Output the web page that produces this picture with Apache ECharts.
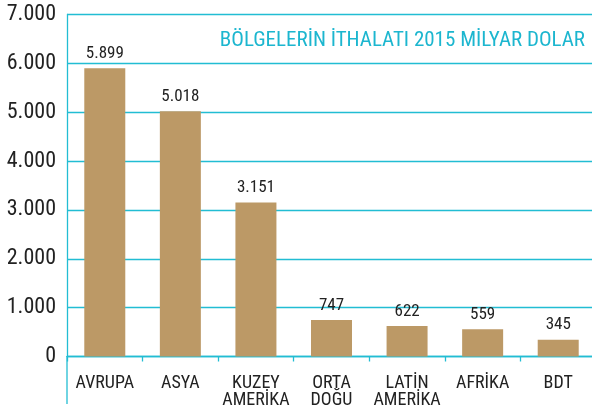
<!DOCTYPE html>
<html><head><meta charset="utf-8">
<script src="https://cdn.jsdelivr.net/npm/echarts@6/dist/echarts.min.js"></script>
<style>html,body{margin:0;padding:0;background:#fff}#c{width:592px;height:413px}</style>
</head><body><div id="c"></div>
<script>
const categories = ['AVRUPA', 'ASYA', 'KUZEY\nAMERİKA', 'ORTA\nDOĞU', 'LATİN\nAMERİKA', 'AFRİKA', 'BDT'];
const values = [5899, 5018, 3151, 747, 622, 559, 345];
const titleText = 'BÖLGELERİN İTHALATI 2015 MİLYAR DOLAR';
const FONT = '"Roboto Condensed", "DejaVu Sans Condensed", sans-serif';
const CYAN = '#22BDD3';
const chart = echarts.init(document.getElementById('c'));
chart.setOption({
  animation: false,
  title: {
    text: titleText, right: 2, top: 25,
    textStyle: { color: '#1CB6CF', fontFamily: FONT, fontSize: 21, fontWeight: 'normal' }
  },
  grid: { left: 67, top: 14.5, width: 529, bottom: 56.5, containLabel: false, outerBoundsMode: 'none' },
  xAxis: {
    type: 'category', data: categories,
    axisLine: { lineStyle: { color: CYAN, width: 1.3 } },
    axisTick: { show: true, length: 5, lineStyle: { color: CYAN, width: 1.3 } },
    axisLabel: { color: '#222', fontFamily: FONT, fontSize: 18, lineHeight: 17, margin: 18, interval: 0 }
  },
  yAxis: {
    type: 'value', min: 0, max: 7000, interval: 1000,
    axisLine: { show: true, lineStyle: { color: CYAN, width: 1.3 } },
    axisTick: { show: false },
    splitLine: { lineStyle: { color: CYAN, width: 1.3 } },
    axisLabel: {
      color: '#222', fontFamily: FONT, fontSize: 22, margin: 11,
      formatter: v => v === 0 ? '0' : (v / 1000).toFixed(0) + '.000'
    }
  },
  series: [{
    type: 'bar', data: values, barWidth: 41,
    itemStyle: { color: '#BC9966' },
    label: {
      show: true, position: 'top', distance: 6, color: '#222',
      fontFamily: FONT, fontSize: 17,
      formatter: p => p.value >= 1000 ? (Math.floor(p.value / 1000) + '.' + String(p.value % 1000).padStart(3, '0')) : String(p.value)
    }
  }],
  graphic: [{
    type: 'line', shape: { x1: 67, y1: 356, x2: 67, y2: 404 },
    style: { stroke: CYAN, lineWidth: 1.3 }
  }]
});
</script></body></html>
